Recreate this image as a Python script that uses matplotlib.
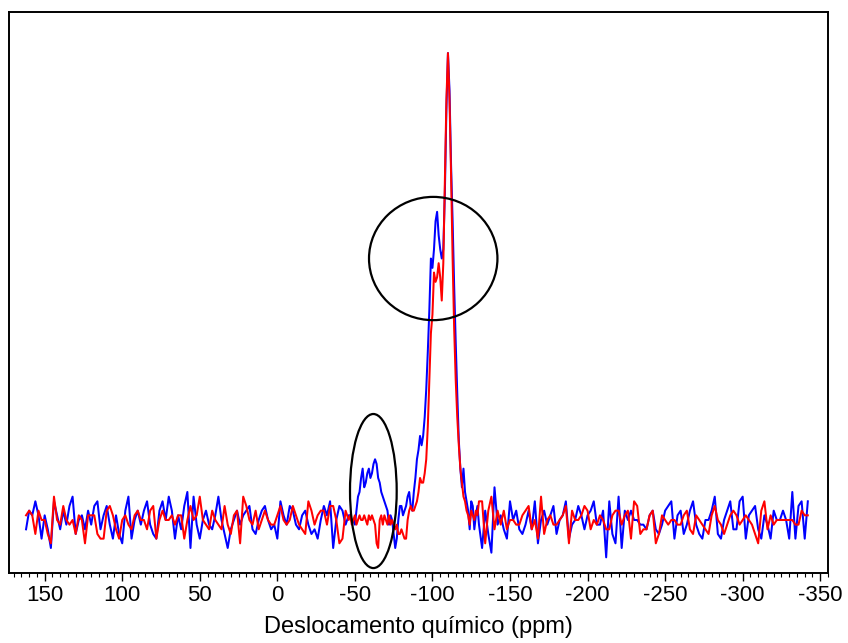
import matplotlib
matplotlib.use("Agg")
import matplotlib.pyplot as plt
import numpy as np
from matplotlib.patches import Ellipse

# chemical shift grid (ppm): coarse on the baseline, finer through the peaks
PPM_LEFT = np.arange(162, -47, -2)
PPM_PEAK = np.arange(-47, -131, -1)
PPM_RIGHT = np.arange(-132, -343, -2)

# intensity (baseline = 0, main peak = 100)
BLUE_LEFT = [
    -2, 2, 1, 4, 1, -4, 1, -2, -6, 4, 1, -2, 2, -1, 3, 5, -3, 0, 1, -2,
    2, -1, 3, 4, -2, 1, 3, -1, -4, 1, -3, -5, 2, 5, -4, 0, 2, -1, 2, 4,
    -1, -3, -4, 2, 4, 0, 5, 2, -4, 1, -2, 3, 6, -6, 5, -1, -4, 0, 2, -1,
    -2, 1, 5, 0, -3, -6, -2, 0, 2, -1, 1, 2, 3, -2, -3, 0, 2, 3, 0, -2,
    -1, -4, 4, 1, -1, 3, 2, -1, -2, 1, 2, -1, -3, -2, -4, 0, 3, 1, 4, -6,
    0, 3, 2, -1, 1,
]
BLUE_PEAK = [
    1, 0, 0, -1, 2, 5, 6, 9, 11, 7, 8, 10, 11, 9, 10, 12, 13, 12, 9, 8,
    6, 5, 4, 3, 2, -1, 1, 0, -3, -6, -4, 0, 3, 3, 1, 2, 3, 5, 6, 3,
    2, 6, 9, 13, 15, 18, 16, 18, 22, 28, 36, 45, 56, 54, 58, 64, 66, 61, 58, 56,
    58, 70, 88, 100, 92, 76, 64, 50, 38, 27, 17, 11, 7, 11, 6, 4, 2, -2, 4, 3,
    -2, 1, 3, -1,
]
BLUE_RIGHT = [
    -6, 2, -3, -7, 7, -1, 1, -2, -4, 4, 0, 2, -2, -3, -1, 2, -2, 4, -5, 0,
    2, -1, 1, 3, -3, 0, 1, 4, -4, -1, 0, 3, 1, -2, 1, 2, 4, -1, -1, 2,
    -8, 4, -3, -5, 5, -6, 2, 0, 2, 0, 0, -1, -1, -2, 1, 2, -2, -3, -1, 2,
    3, 4, -4, 1, 2, -3, -1, 2, 4, -1, -3, -4, 0, 0, 2, 5, -3, -4, 0, 2,
    4, -2, -2, 4, 5, -4, 1, 2, 3, -2, -4, 1, -1, -4, 2, 0, 0, 2, 0, -4,
    6, -4, 3, 4, -4, 4,
]

RED_LEFT = [
    1, 2, 1, -3, 2, 0, 0, -3, -5, 5, 0, -1, 3, 0, -1, 0, -3, 1, 0, -5,
    1, 1, 1, -3, -4, -4, 2, 3, 1, -2, -4, 0, 1, -1, -2, 1, 2, 0, 0, -2,
    2, 3, -4, 0, 2, 0, 0, 1, -1, 1, 1, -4, 0, 3, 0, 1, 5, 0, -1, -2,
    2, 0, -1, -2, 3, -1, -3, 1, 2, -5, 5, 3, 0, -1, 2, -2, 0, 2, 0, -1,
    -1, 1, 3, 0, -1, 0, 3, 1, -1, -2, -3, 4, 2, -1, 1, 2, 2, -1, 3, 3,
    0, -5, -4, 2, 0,
]
RED_PEAK = [
    1, -1, 0, 1, -1, 0, 1, 0, 0, 1, 0, -1, 1, 0, 1, 0, -1, -5, -6, 0,
    1, -1, 1, 0, -1, 1, -1, 0, -1, -2, -1, -3, -3, -2, -3, -4, -4, 0, 2, 3,
    2, 2, 3, 4, 6, 9, 8, 8, 10, 13, 20, 30, 40, 44, 53, 51, 52, 55, 52, 47,
    55, 72, 90, 100, 90, 74, 56, 41, 30, 22, 16, 11, 8, 5, 4, 2, 1, -1, 2, 1,
    0, 2, 1, 4,
]
RED_RIGHT = [
    4, -5, 2, 5, -2, 2, -1, 2, -2, 0, 0, -1, -1, 1, 2, 3, -2, 0, -4, 5,
    -3, 0, 1, -1, -1, 0, 1, 3, -5, 2, 0, 0, 1, 3, 2, -2, 0, -1, 1, 0,
    -2, -2, 1, 2, 2, -1, 1, 2, -4, 4, 3, -3, -2, -2, 1, 2, -5, -3, 1, 0,
    -1, 0, 0, -1, -1, 1, 2, -2, -3, 1, 0, -1, -2, -3, 1, 3, 0, -1, -3, -1,
    1, 2, 1, -1, 0, 1, 0, -1, -3, -5, 2, 4, -2, 1, -1, 0, 0, 0, 0, 0,
    0, -1, -1, 2, 1, 1,
]

XTICKS = [150, 100, 50, 0, -50, -100, -150, -200, -250, -300, -350]
XLABEL = "Deslocamento químico (ppm)"

# highlighted regions: (centre ppm, centre intensity, width ppm, height)
ELLIPSES = [(-100.5, 56.0, 82.8, 26.4), (-61.9, 6.2, 30.1, 33.0)]

plt.rcParams["font.family"] = ["Liberation Sans", "DejaVu Sans"]
plt.rcParams["axes.unicode_minus"] = False

ppm = np.concatenate([PPM_LEFT, PPM_PEAK, PPM_RIGHT])
blue = np.concatenate([BLUE_LEFT, BLUE_PEAK, BLUE_RIGHT]).astype(float)
red = np.concatenate([RED_LEFT, RED_PEAK, RED_RIGHT]).astype(float)

fig = plt.figure(figsize=(8.48, 6.43), dpi=100, facecolor="white")
ax = fig.add_axes([0.0106, 0.1089, 0.9658, 0.8717])

ax.plot(ppm, blue, color="#0000FF", linewidth=1.45, zorder=2)
ax.plot(ppm, red, color="#FF0000", linewidth=1.45, zorder=3)

for cx, cy, w, h in ELLIPSES:
    ax.add_patch(Ellipse((cx, cy), w, h, fill=False, edgecolor="black",
                         linewidth=1.6, zorder=4))

ax.set_xlim(173, -355)
ax.set_ylim(-11.35, 108.7)
ax.set_xticks(XTICKS)
ax.set_xticks(np.arange(170, -356, -5), minor=True)
ax.set_yticks([])
ax.tick_params(axis="x", which="major", direction="out", length=6, width=1.0,
               labelsize=16, pad=3)
ax.tick_params(axis="x", which="minor", direction="out", length=3, width=0.8)
ax.set_xlabel(XLABEL, fontsize=17, labelpad=7)
for side in ["top", "bottom", "left", "right"]:
    ax.spines[side].set_color("black")
    ax.spines[side].set_linewidth(1.4)

fig.savefig("out.png", dpi=100, facecolor="white")
